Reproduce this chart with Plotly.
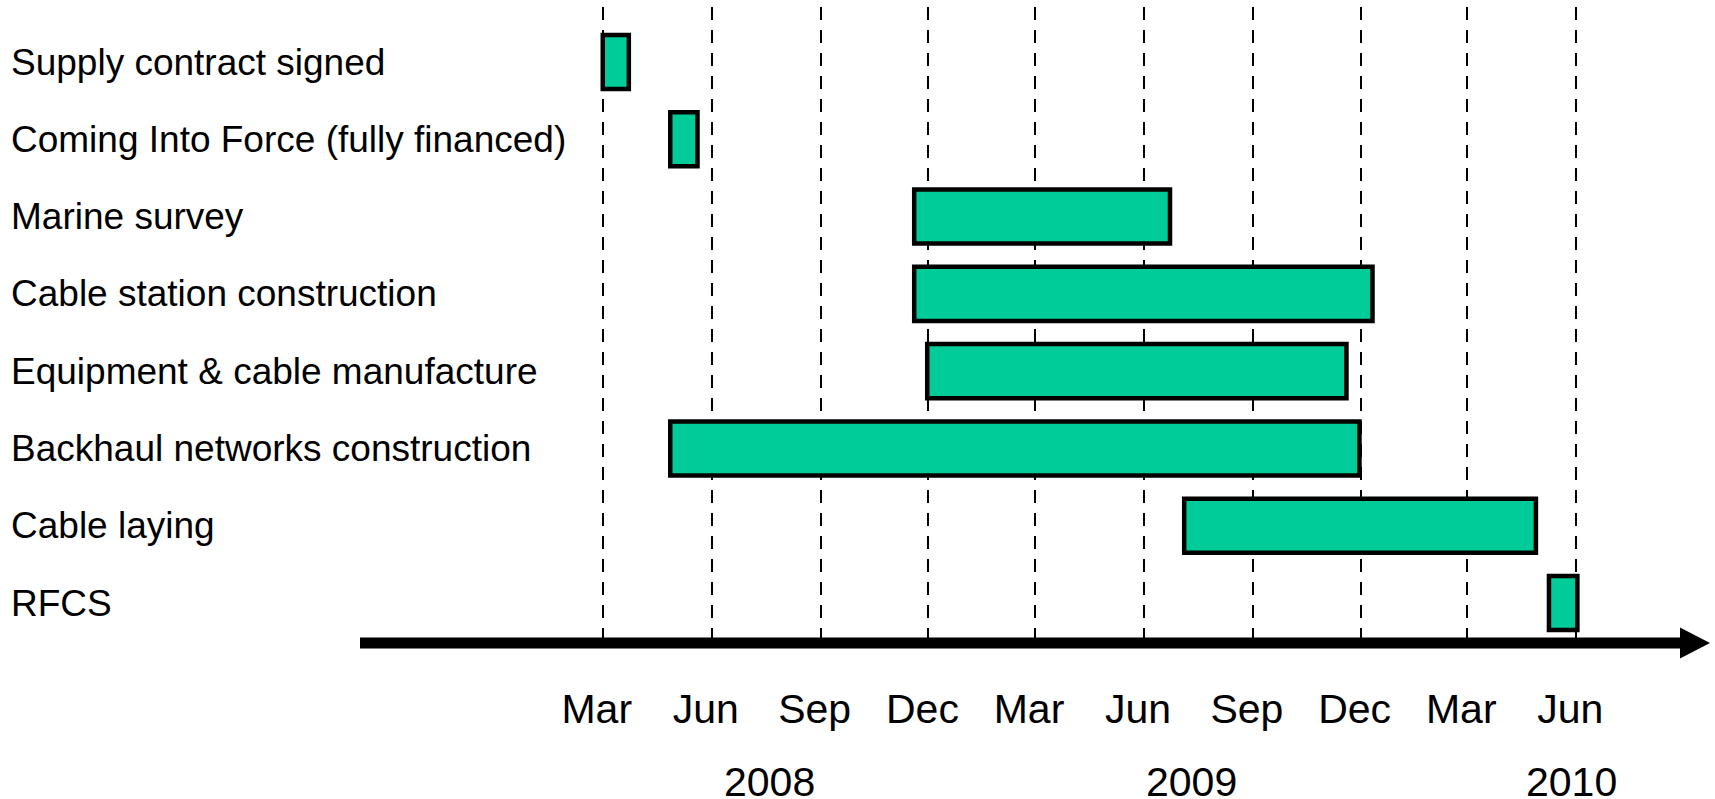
import plotly.graph_objects as go
import pandas as pd

# ---- data ----
tasks = [
    "Supply contract signed",
    "Coming Into Force (fully financed)",
    "Marine survey",
    "Cable station construction",
    "Equipment & cable manufacture",
    "Backhaul networks construction",
    "Cable laying",
    "RFCS",
]
start_dates = [
    "2008-03-01", "2008-04-27", "2008-11-19", "2008-11-19",
    "2008-11-30", "2008-04-27", "2009-07-05", "2010-05-09",
]
end_dates = [
    "2008-03-23", "2008-05-20", "2009-06-23", "2009-12-11",
    "2009-11-19", "2009-11-30", "2010-04-28", "2010-06-02",
]
tick_dates = [
    "2008-03-01", "2008-06-01", "2008-09-01", "2008-12-01", "2009-03-01",
    "2009-06-01", "2009-09-01", "2009-12-01", "2010-03-01", "2010-06-01",
]
tick_labels = ["Mar", "Jun", "Sep", "Dec", "Mar", "Jun", "Sep", "Dec", "Mar", "Jun"]
year_labels = ["2008", "2009", "2010"]
year_anchor_dates = ["2008-07-20", "2009-07-11", "2010-05-28"]

# ---- figure ----
FONT = "Liberation Sans, Arial, sans-serif"
BAR_COLOR = "#00CC99"

s = pd.to_datetime(start_dates)
e = pd.to_datetime(end_dates)
durations_ms = [(b - a).total_seconds() * 1000 for a, b in zip(s, e)]

fig = go.Figure()
fig.add_trace(go.Bar(
    y=tasks,
    x=durations_ms,
    base=start_dates,
    orientation="h",
    width=0.70,
    marker=dict(color=BAR_COLOR, line=dict(color="black", width=4.5)),
    showlegend=False,
    hoverinfo="skip",
))

# left-aligned task labels
for t in tasks:
    fig.add_annotation(
        x=(9 - 360) / 1350, xref="paper", xanchor="left",
        y=t, yref="y", yanchor="middle",
        text=t, showarrow=False,
        font=dict(family=FONT, size=37, color="black"),
    )

# year labels
for lab, d in zip(year_labels, year_anchor_dates):
    fig.add_annotation(
        x=d, xref="x", xanchor="center",
        y=(643 - 782) / 636, yref="paper", yanchor="middle",
        text=lab, showarrow=False,
        font=dict(family=FONT, size=41, color="black"),
    )

# axis arrow (shaft + head)
plot_w, plot_h = 1350, 636
fig.add_shape(
    type="rect", xref="paper", yref="paper",
    x0=0, x1=(1681 - 360) / plot_w,
    y0=-5.5 / plot_h, y1=5.5 / plot_h,
    fillcolor="black", line=dict(width=0), layer="above",
)
hx = (1680 - 360) / plot_w
hy = 15.5 / plot_h
fig.add_shape(
    type="path", xref="paper", yref="paper",
    path=f"M {hx},{hy} L 1.0,0 L {hx},{-hy} Z",
    fillcolor="black", line=dict(width=0), layer="above",
)

fig.update_layout(
    width=1715, height=799,
    margin=dict(l=360, r=5, t=7, b=156),
    plot_bgcolor="white", paper_bgcolor="white",
    font=dict(family=FONT, color="black"),
    bargap=0.3,
    xaxis=dict(
        type="date",
        range=["2007-08-09", "2010-09-22"],
        tickmode="array",
        tickvals=tick_dates,
        ticktext=tick_labels,
        tickfont=dict(family=FONT, size=41, color="black"),
        ticks="outside", ticklen=30, tickcolor="rgba(0,0,0,0)",
        ticklabelshift=-6,
        showgrid=True, gridcolor="black", gridwidth=2, griddash="13px,10px",
        showline=False, zeroline=False,
        fixedrange=True,
    ),
    yaxis=dict(
        type="category",
        categoryorder="array", categoryarray=tasks,
        range=[7.5175, -0.7116],
        showticklabels=False, showgrid=False, zeroline=False, showline=False,
        ticks="",
        fixedrange=True,
    ),
)

fig.write_html(
    "out.html",
    config={"displayModeBar": False},
    post_script="document.body.style.margin='0';document.body.style.overflow='hidden';",
)
